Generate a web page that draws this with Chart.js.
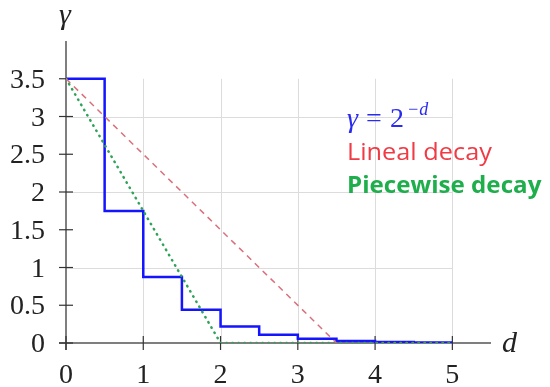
<!DOCTYPE html>
<html>
<head>
<meta charset="utf-8">
<script src="https://cdn.jsdelivr.net/npm/chart.js@4/dist/chart.umd.min.js"></script>
<style>
  html, body { margin: 0; padding: 0; background: #fff; }
  #wrap { width: 550px; height: 387px; }
</style>
</head>
<body>
<div id="wrap"><canvas id="chart" width="550" height="387"></canvas></div>
<script>
// values
const stepX = [0, 0.5, 1, 1.5, 2, 2.5, 3, 3.5, 4, 4.5, 5];
const stepY = [3.5, 1.75, 0.875, 0.44, 0.22, 0.11, 0.055, 0.028, 0.014, 0.007, 0.007];
const linealX = [0, 3.5];
const linealY = [3.5, 0];
const piecewiseX = [0, 2, 5];
const piecewiseY = [3.5, 0, 0];

const xTicks = [0, 1, 2, 3, 4, 5];
const yTicks = [0, 0.5, 1, 1.5, 2, 2.5, 3, 3.5];
const yGrid = [1, 2, 3];

const toPoints = (xs, ys) => xs.map((x, i) => ({ x: x, y: ys[i] }));

// text a bit wider than the font gives (the original is stretched)
function wideText(ctx, text, x, y, sx) {
    ctx.save();
    ctx.translate(x, y);
    ctx.scale(sx, 1);
    ctx.fillText(text, 0, 0);
    ctx.restore();
}

// axes, ticks, grid and labels drawn by hand (crossing tick marks)
const axesPlugin = {
    id: 'axesPlugin',
    beforeDatasetsDraw(chart) {
        const ctx = chart.ctx;
        const xs = chart.scales.x, ys = chart.scales.y;
        const x0 = xs.getPixelForValue(0), y0 = ys.getPixelForValue(0);
        const xEnd = xs.getPixelForValue(5), yTop = ys.getPixelForValue(3.5);
        ctx.save();
        // grid
        ctx.strokeStyle = '#dcdcdc';
        ctx.lineWidth = 1;
        xTicks.slice(1).forEach(v => {
            const px = Math.round(xs.getPixelForValue(v)) + 0.5;
            ctx.beginPath(); ctx.moveTo(px, y0); ctx.lineTo(px, yTop); ctx.stroke();
        });
        yGrid.forEach(v => {
            const py = Math.round(ys.getPixelForValue(v)) + 0.5;
            ctx.beginPath(); ctx.moveTo(x0, py); ctx.lineTo(xEnd, py); ctx.stroke();
        });
        // axis lines
        ctx.strokeStyle = '#555';
        ctx.lineWidth = 1.5;
        ctx.beginPath();
        ctx.moveTo(x0, chart.chartArea.top); ctx.lineTo(x0, y0 + 7);
        ctx.moveTo(x0 - 7, y0); ctx.lineTo(chart.chartArea.right, y0);
        ctx.stroke();
        // tick marks
        ctx.strokeStyle = '#333';
        ctx.lineWidth = 1.2;
        xTicks.forEach(v => {
            const px = xs.getPixelForValue(v);
            ctx.beginPath(); ctx.moveTo(px, y0 - 7); ctx.lineTo(px, y0 + 7); ctx.stroke();
        });
        yTicks.forEach(v => {
            const py = ys.getPixelForValue(v);
            ctx.beginPath(); ctx.moveTo(x0 - 7, py); ctx.lineTo(x0 + 7, py); ctx.stroke();
        });
        // tick labels
        ctx.fillStyle = '#222';
        ctx.font = '28px "Liberation Serif", serif';
        ctx.textAlign = 'center';
        ctx.textBaseline = 'alphabetic';
        xTicks.forEach(v => ctx.fillText(String(v), xs.getPixelForValue(v), y0 + 40));
        ctx.textAlign = 'right';
        yTicks.forEach(v => ctx.fillText(String(v), x0 - 21, ys.getPixelForValue(v) + 9));
        // axis titles
        ctx.font = 'italic 30px "Liberation Serif", serif';
        ctx.textAlign = 'left';
        ctx.fillText('d', chart.chartArea.right + 11, y0 + 9);
        ctx.fillText('\u03B3', x0 - 7, 24);
        ctx.restore();
    },
    afterDatasetsDraw(chart) {
        const ctx = chart.ctx;
        ctx.save();
        ctx.textBaseline = 'alphabetic';
        ctx.textAlign = 'left';
        // gamma = 2^-d
        ctx.fillStyle = '#2b2bf0';
        ctx.font = 'italic 28px "Liberation Serif", serif';
        ctx.fillText('\u03B3', 347, 127);
        ctx.font = '28px "Liberation Serif", serif';
        ctx.fillText('=', 366, 127);
        ctx.fillText('2', 390, 127);
        ctx.font = 'italic 18px "Liberation Serif", serif';
        ctx.fillText('\u2212d', 407, 115);
        // red and green captions
        ctx.fillStyle = '#f03a44';
        ctx.font = '23px "Open Sans", sans-serif';
        wideText(ctx, 'Lineal decay', 347, 160, 1.1);
        ctx.fillStyle = '#1fae4c';
        ctx.font = 'bold 23px "Open Sans", sans-serif';
        wideText(ctx, 'Piecewise decay', 347, 193, 1.05);
        ctx.restore();
    }
};

new Chart(document.getElementById('chart'), {
    type: 'scatter',
    data: {
        datasets: [
            {
                label: 'Lineal decay',
                data: toPoints(linealX, linealY),
                showLine: true,
                borderColor: '#d9707a',
                borderWidth: 1.5,
                borderDash: [6, 5],
                pointRadius: 0,
                fill: false
            },
            {
                label: 'Piecewise decay',
                data: toPoints(piecewiseX, piecewiseY),
                showLine: true,
                borderColor: '#2fa35a',
                borderWidth: 2.5,
                borderDash: [0.5, 5.5],
                borderCapStyle: 'round',
                pointRadius: 0,
                fill: false
            },
            {
                label: 'gamma = 2^-d',
                data: toPoints(stepX, stepY),
                showLine: true,
                stepped: true,
                borderColor: '#1414ff',
                borderWidth: 2.5,
                pointRadius: 0,
                fill: false
            }
        ]
    },
    options: {
        responsive: false,
        animation: false,
        layout: { padding: { left: 66, right: 59, top: 41, bottom: 44 } },
        plugins: { legend: { display: false }, tooltip: { enabled: false } },
        scales: {
            x: { type: 'linear', min: 0, max: 5.5, display: false },
            y: { type: 'linear', min: 0, max: 4, display: false }
        }
    },
    plugins: [axesPlugin]
});
</script>
</body>
</html>
